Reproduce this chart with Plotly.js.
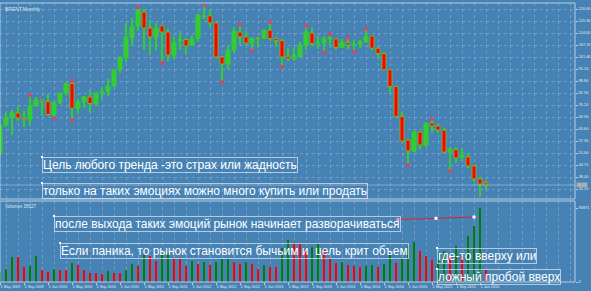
<!DOCTYPE html>
<html><head><meta charset="utf-8">
<script src="https://cdn.plot.ly/plotly-3.0.1.min.js"></script>
<style>html,body{margin:0;padding:0;background:#4682b4;overflow:hidden}#chart{width:591px;height:291px}</style>
</head><body><div id="chart"></div><script>
const months = ["2009-05","2009-06","2009-07","2009-08","2009-09","2009-10","2009-11","2009-12",
"2010-01","2010-02","2010-03","2010-04","2010-05","2010-06","2010-07","2010-08","2010-09","2010-10","2010-11","2010-12",
"2011-01","2011-02","2011-03","2011-04","2011-05","2011-06","2011-07","2011-08","2011-09","2011-10","2011-11","2011-12",
"2012-01","2012-02","2012-03","2012-04","2012-05","2012-06","2012-07","2012-08","2012-09","2012-10","2012-11","2012-12",
"2013-01","2013-02","2013-03","2013-04","2013-05","2013-06","2013-07","2013-08","2013-09","2013-10","2013-11","2013-12",
"2014-01","2014-02","2014-03","2014-04","2014-05","2014-06","2014-07","2014-08","2014-09","2014-10","2014-11","2014-12",
"2015-01","2015-02","2015-03","2015-04","2015-05","2015-06","2015-07","2015-08","2015-09","2015-10","2015-11","2015-12",
"2016-01","2016-02"];
const open = [50.9,65.6,69.4,72.0,69.4,68.8,75.5,78.8,78.0,71.2, 77.6,82.5,87.5,74.5,77.8,80.4,77.0,82.6,83.3,86.1,
 94.8,101.0,111.8,117.7,125.0,116.6,112.0,117.8,114.5,102.4, 109.8,110.5,107.5,111.1,122.6,123.0,119.3,101.4,97.5,105.0,
 114.5,112.0,108.7,111.2,111.0,115.5,111.0,110.0,101.5,100.4, 101.5,107.7,114.0,108.4,108.8,110.9,110.9,106.4,109.0,107.8,
 108.1,109.4,112.4,106.0,103.2,94.7,85.9,70.2,57.8,52.0, 62.0,55.0,66.8,65.2,63.0,51.5,52.8,48.7,49.0,44.2, 37.4,35.3];
const high = [66.0,72.4,73.5,75.6,72.9,81.0,80.5,79.5,81.8,77.8, 82.6,87.9,88.6,79.5,81.0,84.0,83.0,85.4,90.0,95.0,
 102.0,119.5,122.0,127.0,126.5,121.0,119.2,118.0,116.0,112.0, 115.0,111.6,113.0,124.0,128.4,126.0,119.9,101.8,107.4,117.0,
 118.0,115.0,112.0,112.0,116.3,119.2,111.8,111.0,106.0,106.0, 109.3,117.3,117.0,112.4,112.3,112.8,111.0,110.9,111.2,110.5,
 110.5,115.7,112.4,106.7,103.8,95.0,86.0,72.4,58.2,63.0, 62.5,67.0,68.5,66.0,64.0,54.3,54.0,53.6,50.9,44.8, 38.4,36.3];
const low = [49.6,64.5,60.5,67.9,64.4,65.0,75.0,70.5,70.3,69.5, 76.5,81.5,68.7,71.5,74.5,72.5,75.5,79.6,81.0,85.8,
 93.0,98.6,107.0,115.0,105.0,102.4,105.0,98.7,99.1,99.8, 105.3,102.6,107.0,110.0,121.1,117.0,101.1,88.5,95.0,104.0,
 107.5,107.6,105.2,106.5,110.7,110.5,106.7,96.7,99.5,99.1, 101.3,105.0,107.0,105.4,104.4,107.0,104.9,106.0,105.4,104.6,
 106.2,108.7,104.9,100.6,94.5,82.6,69.8,56.8,45.2,51.5, 52.5,54.0,61.5,61.5,51.0,42.1,46.0,47.0,43.3,36.0, 27.9,32.1];
const close = [65.4,69.3,72.0,69.4,68.8,75.5,78.8,78.0,71.2,77.6, 82.5,87.5,74.5,77.8,80.4,77.0,82.5,83.2,86.1,94.8,
 101.0,111.8,117.4,126.1,116.6,111.9,116.6,114.5,102.4,109.3, 110.5,107.2,111.1,123.5,122.9,119.3,101.4,97.7,105.0,115.0,
 112.0,108.7,111.2,111.0,115.5,111.0,110.0,101.4,100.4,102.2, 107.7,114.5,108.4,108.8,110.9,111.5,106.4,109.1,107.8,108.1,
 109.4,112.4,106.0,103.2,94.7,85.9,70.2,57.3,52.1,62.0, 55.2,66.8,65.2,63.1,51.5,53.0,48.4,49.6,44.2,37.4, 34.7,34.2];
const volume = [13000,16900,32500,31800,19500,20200,33800,15600,13000,16900, 15600,15000,24700,22100,15600,11700,11100,10400,14300,11700,
 11000,15600,23400,20800,35100,33800,27300,36400,37000,31200, 29900,20800,27300,23400,26000,22100,26000,29250,29900,26000,
 23400,26000,23400,16900,22100,19500,18850,44200,53300,49400, 48100,42900,45500,48750,42900,31200,24700,26000,22100,20800,
 19500,20800,22100,19500,23400,36400,24700,31200,45500,50700, 40300,33800,28600,37700,40300,35100,46800,33800,58500,71500,
 94871,15600];
const fractalUp = ["2009-10","2010-05","2011-04","2012-03","2012-09","2013-02","2013-08","2013-12","2014-03","2014-06","2015-05"];
const fractalDown = ["2010-02","2010-05","2011-08","2012-06","2012-11","2013-04","2013-11","2014-04","2015-01","2015-08"];
const tickMonths = ["2009-05","2009-09","2010-01","2010-05","2010-09","2011-01","2011-05","2011-09","2012-01","2012-05","2012-09",
 "2013-01","2013-05","2013-09","2014-01","2014-05","2014-09","2015-01","2015-05","2015-09","2016-01"];
const tickText = ["1 May 2009","1 Sep 2009","1 Jan 2010","1 May 2010","1 Sep 2010","1 Jan 2011","1 May 2011","1 Sep 2011",
 "1 Jan 2012","1 May 2012","1 Sep 2012","1 Jan 2013","1 May 2013","1 Sep 2013","1 Jan 2014","1 May 2014","1 Sep 2014",
 "1 Jan 2015","1 May 2015","1 Sep 2015","1 Jan 2016"];
const priceTicks = [32.10,38.40,44.70,51.00,57.30,63.60,69.90,76.20,82.50,88.80,95.10,101.40,107.70,114.00,120.30,126.60];
const symbolTitle = "BRENT,Monthly";
const volumeTitle = "Volumes 35627";
const trendStart = ["2014-11", 80000];
const trendEnd = ["2015-12", 83300];
const notes = [
 {text:"Цель любого тренда -это страх или жадность", px:42, py:157},
 {text:"только на таких эмоциях можно много купить или продать", px:42, py:183},
 {text:"после выхода таких эмоций рынок начинает разворачиваться", px:54, py:216},
 {text:"Если паника, то рынок становится бычьим и\u00a0 цель крит объем", px:60, py:243},
 {text:"где-то вверху или", px:437, py:248},
 {text:"ложный пробой вверх", px:437, py:269}
];

const X = months.map((m,i)=>i);
const idx = m => months.indexOf(m);
const GREEN = '#32cd32', RED = '#ff0000';
const W = 591, H = 291, ML = 0, MR = 16, MT = 3, MB = 9;
const PW = W-ML-MR, PH = H-MT-MB;
const pxX = x => (x-ML)/PW;
const pxY = y => (H-MB-y)/PH;
const mainDom = [pxY(199), 1];
const volDom = [0, pxY(201)];
const vmax = Math.max(...volume);
const volTop = vmax*(282-201)/(282-208);
const pStep = 1.905;
const yTop = 126.6 + (9-3)/pStep, yBot = 126.6 - (199-9)/pStep;
const xMax = PW/6;
const off = 2.2;

const up = close.map((c,i)=>c>=open[i]);
const traces = [];
traces.push({type:'bar', x:X, base:low, y:high.map((h,i)=>h-low[i]), width:0.17,
  marker:{color:GREEN, line:{width:0}}, xaxis:'x', yaxis:'y', hoverinfo:'skip'});
traces.push({type:'bar', x:X, base:open.map((o,i)=>Math.min(o,close[i])),
  y:open.map((o,i)=>Math.max(Math.abs(close[i]-o),0.3)), width:0.68,
  marker:{color:up.map(u=>u?GREEN:RED), line:{color:up.map(u=>u?GREEN:'#7fb020'), width:1}}, xaxis:'x', yaxis:'y', hoverinfo:'skip'});
traces.push({type:'scatter', mode:'markers', x:fractalUp.map(idx), y:fractalUp.map(m=>high[idx(m)]+off),
  marker:{symbol:'arrow-up', size:5, color:'#e0406a', line:{width:0}}, xaxis:'x', yaxis:'y', hoverinfo:'skip'});
traces.push({type:'scatter', mode:'markers', x:fractalDown.map(idx), y:fractalDown.map(m=>low[idx(m)]-off),
  marker:{symbol:'arrow-down', size:5, color:'#e0406a', line:{width:0}}, xaxis:'x', yaxis:'y', hoverinfo:'skip'});
traces.push({type:'bar', x:X, y:volume, width:0.45,
  marker:{color:volume.map((v,i)=> (i===0 || v>volume[i-1]) ? '#008000' : RED), line:{width:0}},
  xaxis:'x', yaxis:'y2', hoverinfo:'skip'});
const tx0 = idx(trendStart[0])+0.33, tx1 = idx(trendEnd[0]);
traces.push({type:'scatter', mode:'lines+markers', x:[tx0,(tx0+tx1)/2,tx1], y:[trendStart[1],(trendStart[1]+trendEnd[1])/2,trendEnd[1]],
  line:{color:'#e0203a', width:1}, marker:{symbol:'square', size:3, color:['#f0a0b0','#ffffff','#ffffff']},
  xaxis:'x', yaxis:'y2', hoverinfo:'skip'});

const frame = 'rgba(205,220,238,0.85)';
const grid = 'rgba(190,210,235,0.35)';
const tickFont = {family:'Liberation Sans, Arial', size:3.8, color:'#e4ecf4'};
const shapes = [
 {type:'rect', xref:'paper', yref:'paper', x0:0, x1:1, y0:mainDom[0], y1:mainDom[1], line:{color:frame, width:1}},
 {type:'rect', xref:'paper', yref:'paper', x0:0, x1:1, y0:volDom[0], y1:volDom[1], line:{color:frame, width:1}},
 {type:'line', xref:'paper', yref:'y', x0:0, x1:1, y0:close[close.length-1], y1:close[close.length-1], line:{color:'rgba(200,205,215,0.5)', width:1}}
];
notes.forEach(n=>{
  shapes.push({type:'rect', xref:'paper', yref:'paper', xsizemode:'pixel', ysizemode:'pixel',
    xanchor:pxX(n.px), yanchor:pxY(n.py), x0:-1, x1:1, y0:-1, y1:1, fillcolor:'#ffffff', line:{width:0}});
});
const annotations = notes.map(n=>({xref:'paper', yref:'paper', x:pxX(n.px), y:pxY(n.py), xanchor:'left', yanchor:'top',
  text:n.text, showarrow:false, font:{family:'Liberation Sans, Arial', size:12, color:'#ffffff'},
  bordercolor:'rgba(225,232,242,0.7)', borderwidth:1, borderpad:0, align:'left'}));
annotations.push({xref:'paper', yref:'paper', x:pxX(3), y:1, yshift:-1, xanchor:'left', yanchor:'top', text:symbolTitle,
  showarrow:false, font:{family:'Liberation Sans, Arial', size:5, color:'#dfe7f0'}});
annotations.push({xref:'paper', yref:'paper', x:pxX(3), y:volDom[1], yshift:-1, xanchor:'left', yanchor:'top', text:volumeTitle,
  showarrow:false, font:{family:'Liberation Sans, Arial', size:4.5, color:'#dfe7f0'}});
annotations.push({xref:'paper', yref:'y', x:1, xshift:1, y:close[close.length-1], xanchor:'left', yanchor:'middle',
  text:close[close.length-1].toFixed(2), showarrow:false, bgcolor:'#9aa4ad', borderpad:0,
  font:{family:'Liberation Sans, Arial', size:3.8, color:'#c8d0d8'}});

const layout = {
  width:W, height:H, margin:{l:ML, r:MR, t:MT, b:MB}, paper_bgcolor:'#4682b4', plot_bgcolor:'#4682b4',
  showlegend:false, barmode:'overlay', bargap:0,
  xaxis:{range:[0,xMax], anchor:'y2', domain:[0,1], tickmode:'array', tickvals:tickMonths.map(idx), ticktext:tickText,
    tickangle:0, ticklabelposition:'outside right', tickfont:tickFont, ticks:'outside', ticklen:2, tickcolor:frame,
    showgrid:false, zeroline:false, showline:false, fixedrange:true, automargin:false,
    minor:{tickmode:'linear', tick0:1, dtick:2, showgrid:true, gridcolor:grid, griddash:'dot', gridwidth:1, ticks:''}},
  yaxis:{domain:mainDom, range:[yBot,yTop], side:'right', tickmode:'array', tickvals:priceTicks,
    ticktext:priceTicks.map(v=>v.toFixed(2)), tickfont:tickFont, ticks:'outside', ticklen:2, tickcolor:frame,
    ticklabelstandoff:0, automargin:false,
    showgrid:true, gridcolor:grid, griddash:'dot', zeroline:false, showline:false, fixedrange:true},
  yaxis2:{domain:volDom, range:[0,volTop], side:'right', tickmode:'array', tickvals:[0,vmax], ticktext:['0',String(vmax)],
    tickfont:tickFont, ticks:'outside', ticklen:2, tickcolor:frame, ticklabelstandoff:0, automargin:false,
    showgrid:false, zeroline:false, showline:false, fixedrange:true},
  shapes, annotations
};
Plotly.newPlot('chart', traces, layout, {staticPlot:true, displayModeBar:false});
</script></body></html>
